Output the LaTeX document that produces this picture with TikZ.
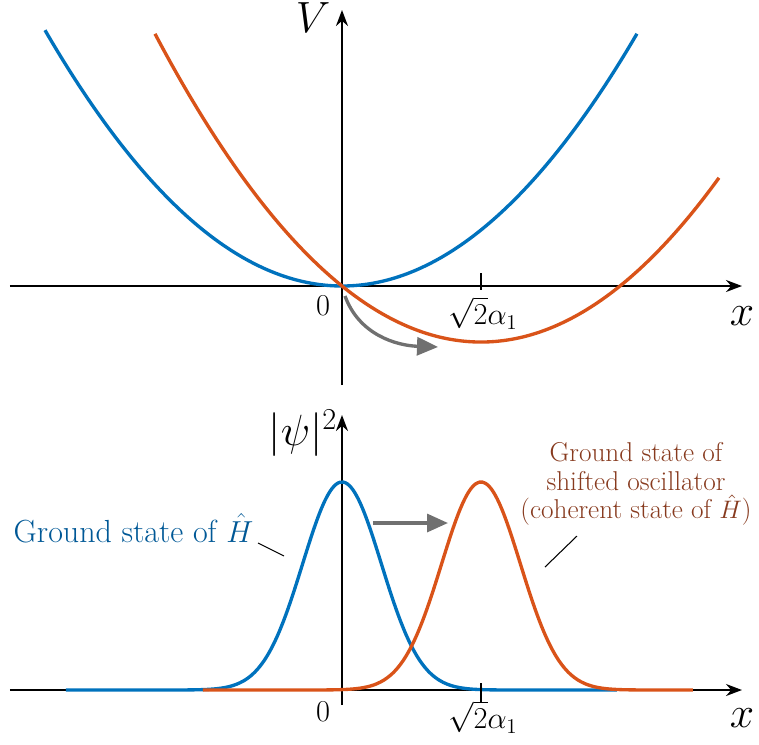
\documentclass[tikz,border=0pt]{standalone}
\usepackage{amsmath}
\usepackage{xcolor}
\usepackage{tikz}
\usetikzlibrary{arrows.meta,positioning,calc}
\definecolor{potblue}{RGB}{0,114,189}
\definecolor{potorange}{RGB}{217,83,25}
\definecolor{txtblue}{RGB}{0,88,150}
\definecolor{txtbrown}{RGB}{135,58,30}
\definecolor{movegray}{RGB}{112,112,112}
\tikzset{
  axisline/.style={-{Stealth[length=3.2mm,width=2.4mm]}, line width=1.15pt},
  curve/.style={line width=1.9pt, smooth, samples=150},
  movearrow/.style={-{Triangle[length=4.2mm,width=3.6mm,fill=movegray]}, line width=1.9pt, draw=movegray},
  axlbl/.style={inner sep=0pt, font=\fontsize{24}{28}\selectfont},
  smlbl/.style={inner sep=0pt, font=\fontsize{17}{18}\selectfont},
  leader/.style={line width=0.6pt}
}

\begin{document}
\begin{tikzpicture}
\useasboundingbox (-6.84,-9.16) rectangle (8.34,5.72);
% top panel: potentials
\draw[axisline] (-6.64,0) -- (8.0,0);
\draw[axisline] (0,-1.98) -- (0,5.52);
\draw[line width=1.15pt] (2.78,0.26) -- (2.78,-0.08);
\node[axlbl] (Vlab) at (-0.58,5.36) {$V$};
\node[axlbl] (xtop) at (8.0,-0.6) {$x$};
\node[smlbl] (ztop) at (-0.38,-0.4) {$0$};
\node[smlbl] (atop) at (2.82,-0.54) {$\sqrt{2}\alpha_1$};
\draw[curve, potblue] plot[domain=-5.94:5.9] (\x,{0.145*\x*\x});
\draw[curve, potorange] plot[domain=-3.74:7.54] (\x,{0.145*(\x-2.78)^2-1.1206});
\coordinate (mvs) at (0.06,-0.2);
\coordinate (mve) at (1.92,-1.22);
\draw[movearrow] (mvs) to[out=-70,in=178] (mve);
% bottom panel: probability densities
\begin{scope}[yshift=-8.08cm]
\draw[axisline] (-6.64,0) -- (8.0,0);
\draw[axisline] (0,-0.3) -- (0,5.5);
\node[axlbl] (psilab) at (-0.78,5.14) {$|\psi|^2$};
\node[axlbl] (xbot) at (8.0,-0.56) {$x$};
\node[smlbl] (zbot) at (-0.38,-0.44) {$0$};
\node[smlbl] (abot) at (2.82,-0.54) {$\sqrt{2}\alpha_1$};
\draw[curve, potblue] plot[domain=-5.52:5.5] (\x,{4.16*exp(-(\x*\x)/1.24)});
\draw[curve, potorange] plot[domain=-2.78:7.02] (\x,{4.16*exp(-((\x-2.78)^2)/1.24)});
\draw[line width=1.15pt] (2.78,0.14) -- (2.78,-0.24);
\coordinate (gs) at (0.62,3.34);
\coordinate (ge) at (2.12,3.34);
\draw[movearrow] (gs) -- (ge);
\node[smlbl, text=txtblue, font=\fontsize{18.2}{19}\selectfont] (gsH) at (-4.17,3.24) {Ground state of $\hat{H}$};
\coordinate (bl1) at (-1.68,2.94);
\coordinate (bl2) at (-1.16,2.68);
\draw[leader] (bl1) -- (bl2);
\node[smlbl, text=txtbrown, align=center, font=\fontsize{15.5}{16.3}\selectfont] (gsS) at (5.88,4.12) {Ground state of\\shifted oscillator\\(coherent state of $\hat{H}$)};
\coordinate (br1) at (4.06,2.46);
\coordinate (br2) at (4.7,3.08);
\draw[leader] (br1) -- (br2);
\end{scope}
\end{tikzpicture}
\end{document}
